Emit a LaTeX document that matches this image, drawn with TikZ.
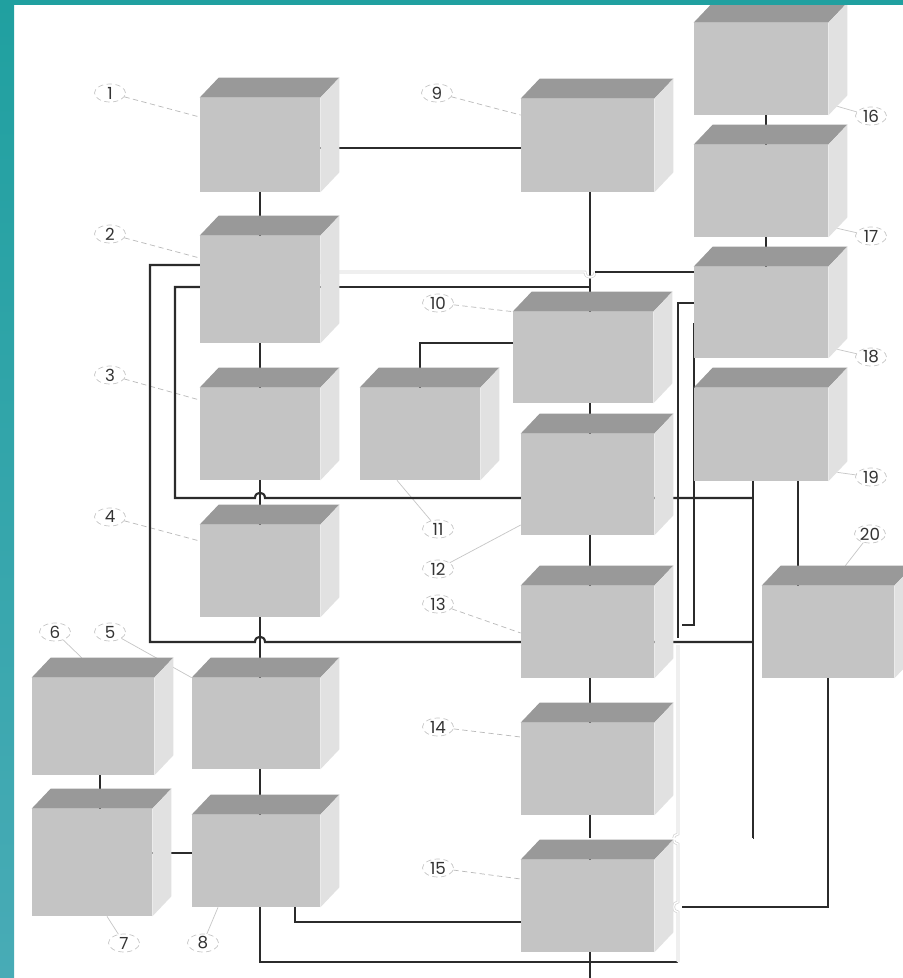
\documentclass[tikz,border=0pt]{standalone}
\usepackage{fontspec}
\newfontfamily\tagfont{Poppins}
\usetikzlibrary{shapes.geometric}

\definecolor{front}{HTML}{C4C4C4}
\definecolor{topface}{HTML}{999999}
\definecolor{sideface}{HTML}{E1E1E1}
\definecolor{wirecol}{HTML}{2B2B2B}
\definecolor{teal1}{HTML}{20A0A0}
\definecolor{teal2}{HTML}{48ABB6}

\tikzset{
  box/.style 2 args={rectangle,inner sep=0pt,
    minimum width=#1*0.02cm,minimum height=#2*0.02cm},
  wire/.style={draw=wirecol,line width=1.2pt},
  ghost/.style={draw=gray!35,double=white,double distance=0.8pt,line width=0.4pt},
  tag/.style={ellipse,draw=gray!45,densely dashed,line width=0.4pt,
    minimum width=31*0.02cm,minimum height=18*0.02cm,inner sep=0pt,
    font=\tagfont\fontsize{9.5}{10}\selectfont,text=black!80},
  lead/.style={draw=gray!55,line width=0.4pt,densely dashed},
  leadsolid/.style={draw=gray!45,line width=0.4pt}
}

\begin{document}
\begin{tikzpicture}[x=0.02cm,y=-0.02cm]
  \useasboundingbox (0,0) rectangle (903,978);
  \clip (0,0) rectangle (903,978);
  \fill[white] (0,0) rectangle (903,978);

  % boxes (front faces, filled below)
  \node[box={120}{94}]  (b1)  at (260,145)   {};
  \node[box={120}{107}] (b2)  at (260,289.5) {};
  \node[box={120}{92}]  (b3)  at (260,434)   {};
  \node[box={120}{92}]  (b4)  at (260,571)   {};
  \node[box={128}{91}]  (b5)  at (256,723.5) {};
  \node[box={122}{97}]  (b6)  at (93,726.5)  {};
  \node[box={120}{107}] (b7)  at (92,862.5)  {};
  \node[box={128}{92}]  (b8)  at (256,861)   {};
  \node[box={133}{93}]  (b9)  at (587.5,145.5) {};
  \node[box={140}{91}]  (b10) at (583,357.5) {};
  \node[box={120}{92}]  (b11) at (420,434)   {};
  \node[box={133}{101}] (b12) at (587.5,484.5) {};
  \node[box={133}{92}]  (b13) at (587.5,632) {};
  \node[box={133}{92}]  (b14) at (587.5,769) {};
  \node[box={133}{92}]  (b15) at (587.5,906) {};
  \node[box={134}{92}]  (b16) at (761,69)    {};
  \node[box={134}{92}]  (b17) at (761,191)   {};
  \node[box={134}{91}]  (b18) at (761,312.5) {};
  \node[box={134}{93}]  (b19) at (761,434.5) {};
  \node[box={132}{92}]  (b20) at (828,632)   {};

  % number tags
  \node[tag] (t1)  at (110,93)  {1};
  \node[tag] (t2)  at (110,234) {2};
  \node[tag] (t3)  at (110,375) {3};
  \node[tag] (t4)  at (110,517) {4};
  \node[tag] (t5)  at (110,632) {5};
  \node[tag] (t6)  at (55,632)  {6};
  \node[tag] (t7)  at (124,943) {7};
  \node[tag] (t8)  at (203,943) {8};
  \node[tag] (t9)  at (437,93)  {9};
  \node[tag] (t10) at (438,303) {10};
  \node[tag] (t11) at (438,529) {11};
  \node[tag] (t12) at (438,569) {12};
  \node[tag] (t13) at (438,604) {13};
  \node[tag] (t14) at (438,727) {14};
  \node[tag] (t15) at (438,868) {15};
  \node[tag] (t16) at (871,116) {16};
  \node[tag] (t17) at (871,236) {17};
  \node[tag] (t18) at (871,357) {18};
  \node[tag] (t19) at (871,477) {19};
  \node[tag] (t20) at (870,534) {20};

  % leaders
  \draw[lead] (t1) -- (b1.west |- 0,117);
  \draw[lead] (t2) -- (b2.west |- 0,258);
  \draw[lead] (t3) -- (b3.west |- 0,400);
  \draw[lead] (t4) -- (b4.west |- 0,541);
  \draw[leadsolid] (t5) -- (b5.north west);
  \draw[leadsolid] (t6) -- ([shift={(50,-20)}]b6.north west);
  \draw[leadsolid] (t7) -- (b7.south -| 107,0);
  \draw[leadsolid] (t8) -- (b8.south -| 218,0);
  \draw[lead] (t9) -- (b9.west |- 0,115);
  \draw[lead] (t10) -- (b10.north west);
  \draw[leadsolid] (t11) -- (b11.south -| 397,0);
  \draw[leadsolid] (t12) -- (b12.west |- 0,525);
  \draw[lead] (t13) -- (b13.west |- 0,633);
  \draw[lead] (t14) -- (b14.west |- 0,737);
  \draw[lead] (t15) -- (b15.west |- 0,879);
  \foreach \i in {16,...,19}
    \draw[leadsolid] (t\i) -- ([shift={(9,-9)}]b\i.south east);
  \draw[leadsolid] (t20) -- ([shift={(-49,-20)}]b20.north east);

  % connectors
  \draw[wire] (b1 |- 0,148) -- (b9 |- 0,148);
  \draw[wire] (b9 -| 590,0) -- (590,985);
  \draw[wire] (b1) -- (b1 |- b8);
  \draw[wire] (b6 -| 100,0) -- (b7 -| 100,0);
  \draw[wire] (b7 |- 0,853) -- (b8 |- 0,853);
  \draw[wire] (b8 -| 295,0) |- (b15 |- 0,922);
  \draw[wire] (b1 |- b8) |- (678,962);
  \draw[wire] (b2 |- 0,265) -| (150,642) -- (255,642)
    .. controls (255,635) and (265,635) .. (265,642) -- (753,642);
  \draw[wire] (b2 |- 0,287) -| (175,498) -- (255,498)
    .. controls (255,491) and (265,491) .. (265,498) -- (753,498);
  \draw[ghost] (b2 |- 0,272) -- (585,272)
    .. controls (585,279) and (595,279) .. (595,272);
  \draw[wire] (595,272) -- (b18 |- 0,272);
  \draw[wire] (b2 |- 0,287) -- (590,287);
  \draw[wire] (b10 |- 0,343) -| (b11);
  \draw[wire] (b18 |- 0,303) -| (678,638);
  \draw[wire] (b18.west |- 0,323) -- (b19.west |- 0,625) -- (682,625);
  \draw[ghost] (678,645) -- (678,834) .. controls (672,834) and (672,844) .. (678,844)
    -- (678,902) .. controls (672,902) and (672,912) .. (678,912) -- (678,962);
  \draw[wire] (b19 -| 753,0) -- (753,839);
  \draw[ghost] (753,839) -- (b8 |- 0,839);
  \draw[wire] (b19 -| 798,0) -- (b20 -| 798,0);
  \draw[wire] (b20) |- (682,907);
  \draw[wire] (b16 -| 766,0) -- (b18 -| 766,0);

  % front, top and side faces
  \foreach \i in {1,...,20} {
    \fill[front] (b\i.north west) rectangle (b\i.south east);
    \fill[topface] (b\i.north west) -- ([shift={(19,-20)}]b\i.north west)
      -- ([shift={(19,-20)}]b\i.north east) -- (b\i.north east) -- cycle;
    \fill[sideface] (b\i.north east) -- ([shift={(19,-20)}]b\i.north east)
      -- ([shift={(19,-20)}]b\i.south east) -- (b\i.south east) -- cycle;
  }

  % frame
  \fill[teal1] (0,0) rectangle (903,5);
  \shade[top color=teal1,bottom color=teal2] (0,0) rectangle (14,978);
\end{tikzpicture}
\end{document}
